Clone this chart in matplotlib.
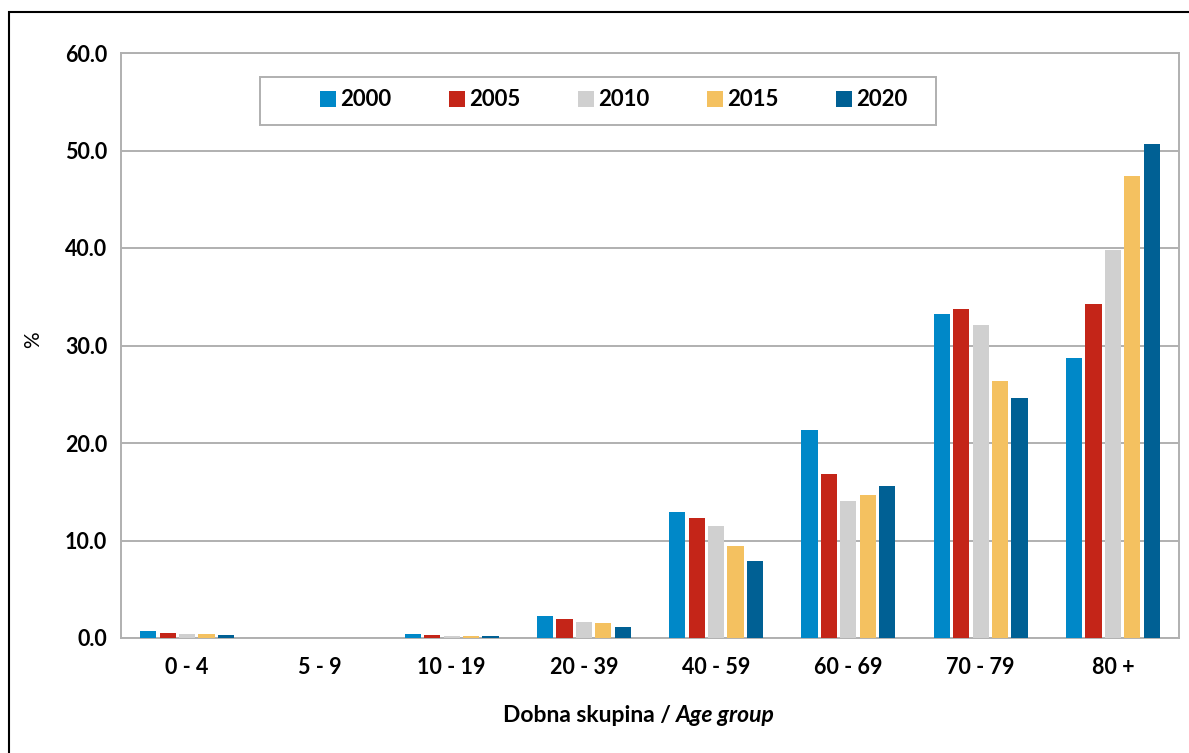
import numpy as np
import matplotlib
matplotlib.use("Agg")
import matplotlib.pyplot as plt
from matplotlib.patches import Rectangle

# podatki
age_groups = ["0 - 4", "5 - 9", "10 - 19", "20 - 39", "40 - 59", "60 - 69", "70 - 79", "80 +"]
years = ["2000", "2005", "2010", "2015", "2020"]
v2000 = [0.7, 0.0, 0.4, 2.3, 12.9, 21.3, 33.2, 28.7]
v2005 = [0.55, 0.0, 0.3, 1.9, 12.3, 16.8, 33.7, 34.3]
v2010 = [0.4, 0.0, 0.2, 1.6, 11.5, 14.1, 32.1, 39.8]
v2015 = [0.4, 0.0, 0.2, 1.5, 9.4, 14.7, 26.4, 47.4]
v2020 = [0.3, 0.0, 0.2, 1.1, 7.9, 15.6, 24.6, 50.7]
series = [v2000, v2005, v2010, v2015, v2020]
colors = ["#0088C8", "#C42518", "#D0D0D0", "#F4C160", "#006094"]

plt.rcParams["font.family"] = ["Lato", "DejaVu Sans"]

W, H = 1189, 753
fig = plt.figure(figsize=(W / 100, H / 100), dpi=100)
ax = fig.add_axes([121 / W, 1 - 638 / H, (1179 - 121) / W, (638 - 53) / H])

# okvir okoli slike
fig.patches.append(Rectangle((9 / W, -0.1), 1.2, 1 - 12 / H + 0.1,
                             transform=fig.transFigure, fill=False,
                             edgecolor="black", linewidth=1.5))

x = np.arange(len(age_groups))
step = 0.147
width = 0.122
for i, (vals, col, yr) in enumerate(zip(series, colors, years)):
    ax.bar(x + (i - 2) * step, vals, width=width, color=col, label=yr, zorder=3)

ax.set_xlim(-0.5, len(age_groups) - 0.5)
ax.set_ylim(0, 60)
ax.set_yticks(np.arange(0, 61, 10))
ax.set_yticklabels([f"{v:.1f}" for v in np.arange(0, 61, 10)])
ax.set_xticks(x)
ax.set_xticklabels(age_groups)
ax.tick_params(length=0, labelsize=15.5)
ax.tick_params(axis="y", pad=10)
ax.tick_params(axis="x", pad=14)
for lab in ax.get_xticklabels() + ax.get_yticklabels():
    lab.set_fontweight("bold")

ax.grid(axis="y", color="#B0B0B0", linewidth=1.4, zorder=0)
for sp in ax.spines.values():
    sp.set_color("#B0B0B0")
    sp.set_linewidth(1.4)

# oznaka osi y
fig.text(33 / W, 1 - 340 / H, "%", fontsize=15, rotation=90, ha="center", va="center")

# oznaka osi x (del v ležečem tisku)
t1 = fig.text(503 / W, 1 - 722 / H, "Dobna skupina / ", fontsize=16.5,
              fontweight="bold", ha="left", va="baseline")
ax.annotate("Age group", xy=(1, 0), xycoords=t1, fontsize=16.5, fontweight="bold",
            fontstyle="italic", ha="left", va="bottom")

# legenda v okvirju
ax.add_patch(Rectangle(((260 - 121) / 1058, (638 - 125) / 585), (936 - 260) / 1058, 48 / 585,
                       transform=ax.transAxes, facecolor="white", edgecolor="#B0B0B0",
                       linewidth=1.4, zorder=4))
leg = ax.legend(loc="center left", bbox_to_anchor=((320 - 121) / 1058, (638 - 100) / 585),
                ncol=5, frameon=False, prop={"size": 16, "weight": "bold"},
                handlelength=0.72, handleheight=0.72, handletextpad=0.18,
                borderaxespad=0, borderpad=0, columnspacing=2.6)
leg.set_zorder(5)

fig.savefig("out.png", dpi=100)
